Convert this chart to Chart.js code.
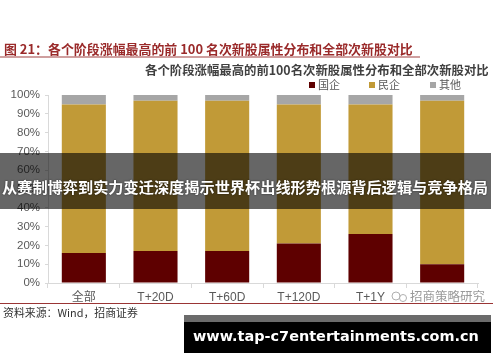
<!DOCTYPE html>
<html>
<head>
<meta charset="utf-8">
<script src="https://cdn.jsdelivr.net/npm/chart.js@4.4.1/dist/chart.umd.min.js"></script>
<style>
  html, body { margin: 0; padding: 0; background: #fff; }
  #wrap { width: 500px; height: 362px; position: relative; }
</style>
</head>
<body>
<div id="wrap"><canvas id="chart" width="500" height="362"></canvas></div>
<script>
// categories (last one is hidden under the watermark in the source image)
const categories = ["全部", "T+20D", "T+60D", "T+120D", "T+1Y", ""];
const stateOwned = [16, 17, 17, 21, 26, 10];   // 国企
const privateOwned = [79, 80, 80, 74, 69, 87]; // 民企
const others = [5, 3, 3, 5, 5, 3];             // 其他
const seriesNames = ["国企", "民企", "其他"];
const seriesColors = ["#5e0000", "#c19a37", "#a6a6a6"];

const headerText = "图 21：各个阶段涨幅最高的前 100 名次新股属性分布和全部次新股对比";
const chartTitle = "各个阶段涨幅最高的前100名次新股属性分布和全部次新股对比";
const bannerText = "从赛制博弈到实力变迁深度揭示世界杯出线形势根源背后逻辑与竞争格局";
const sourceText = "资料来源：Wind，招商证券";
const watermarkText = "招商策略研究";
const urlText = "www.tap-c7entertainments.com.cn";

const CJK = '"Noto Sans CJK SC", "Noto Sans", sans-serif';
const LATIN = '"Liberation Sans", Arial, "Noto Sans CJK SC", sans-serif';

// draw text squeezed/stretched to a target width by picking the font size
function fitText(ctx, text, x, y, width, weight, family, align) {
  ctx.font = `${weight} 20px ${family}`;
  const size = 20 * width / ctx.measureText(text).width;
  ctx.font = `${weight} ${size.toFixed(2)}px ${family}`;
  ctx.textAlign = align || "left";
  ctx.fillText(text, x, y);
}

const decorations = {
  id: "decorations",
  beforeDraw(chart) {
    const ctx = chart.ctx;
    ctx.save();
    ctx.fillStyle = "#fff";
    ctx.fillRect(0, 0, chart.width, chart.height);
    ctx.restore();
  },
  afterDraw(chart) {
    const ctx = chart.ctx;
    ctx.save();
    ctx.textBaseline = "middle";

    // report header
    ctx.fillStyle = "#9a2a2a";
    fitText(ctx, headerText, 4, 49, 409, "bold", CJK);
    ctx.fillStyle = "#a04040";
    ctx.fillRect(0, 56.5, 420, 1);

    // chart title
    ctx.fillStyle = "#404040";
    fitText(ctx, chartTitle, 145, 70, 344, "bold", CJK);

    // legend
    const legendX = [309, 369, 430];
    seriesNames.forEach((name, i) => {
      ctx.fillStyle = seriesColors[i];
      ctx.fillRect(legendX[i], 82, 6, 6);
      ctx.fillStyle = "#595959";
      ctx.font = `11px ${CJK}`;
      ctx.textAlign = "left";
      ctx.fillText(name, legendX[i] + 9, 85);
    });

    // source line + text
    ctx.fillStyle = "#9a3535";
    ctx.fillRect(0, 303, 493, 1);
    ctx.fillStyle = "#333";
    fitText(ctx, sourceText, 3, 313, 135, "normal", CJK);

    // watermark
    ctx.fillStyle = "rgba(255,255,255,0.85)";
    ctx.fillRect(390, 289, 100, 13);
    ctx.strokeStyle = "#b0b0b0";
    ctx.lineWidth = 1;
    ctx.beginPath();
    ctx.arc(396, 296, 4, 0, Math.PI * 2);
    ctx.stroke();
    ctx.beginPath();
    ctx.arc(403, 298, 3.5, 0, Math.PI * 2);
    ctx.stroke();
    ctx.fillStyle = "#9a9a9a";
    fitText(ctx, watermarkText, 410, 296, 75, "normal", CJK);

    // dark banner across the chart
    ctx.fillStyle = "rgba(0,0,0,0.6)";
    ctx.fillRect(0, 153, 491, 56);
    ctx.fillStyle = "#fff";
    ctx.shadowColor = "rgba(0,0,0,0.6)";
    ctx.shadowBlur = 2;
    fitText(ctx, bannerText, 2, 187, 486, "bold", CJK);
    ctx.shadowBlur = 0;

    // url banner at the bottom
    ctx.fillStyle = "#6b6b6b";
    ctx.fillRect(184, 315, 307, 7);
    ctx.fillStyle = "#000";
    ctx.fillRect(184, 322, 307, 31);
    ctx.fillStyle = "#fff";
    fitText(ctx, urlText, 193, 337, 286, "bold", '"DejaVu Sans", sans-serif');

    ctx.restore();
  }
};

const ctx = document.getElementById("chart").getContext("2d");
new Chart(ctx, {
  type: "bar",
  data: {
    labels: categories,
    datasets: [stateOwned, privateOwned, others].map((values, i) => ({
      label: seriesNames[i],
      data: values,
      backgroundColor: seriesColors[i],
      borderWidth: 0,
      categoryPercentage: 1,
      barPercentage: 0.615
    }))
  },
  options: {
    responsive: false,
    animation: false,
    devicePixelRatio: 1,
    layout: { padding: { left: 0, right: 22, top: 95, bottom: 0 } },
    plugins: {
      legend: { display: false },
      title: { display: false },
      tooltip: { enabled: false }
    },
    scales: {
      x: {
        stacked: true,
        afterFit: (scale) => { scale.height = 79; },
        grid: { offset: true, drawOnChartArea: false, tickLength: 5, color: "#d9d9d9" },
        border: { color: "#d9d9d9" },
        ticks: {
          color: "#595959",
          padding: 2,
          font: { family: LATIN, size: 12 }
        }
      },
      y: {
        stacked: true,
        min: 0,
        max: 100,
        afterFit: (scale) => { scale.width = 48; },
        grid: { drawOnChartArea: false, tickLength: 3, color: "#d9d9d9" },
        border: { color: "#d9d9d9" },
        ticks: {
          stepSize: 10,
          color: "#595959",
          padding: 5,
          font: { family: LATIN, size: 11.5 },
          callback: (v) => v + "%"
        }
      }
    }
  },
  plugins: [decorations]
});
</script>
</body>
</html>
